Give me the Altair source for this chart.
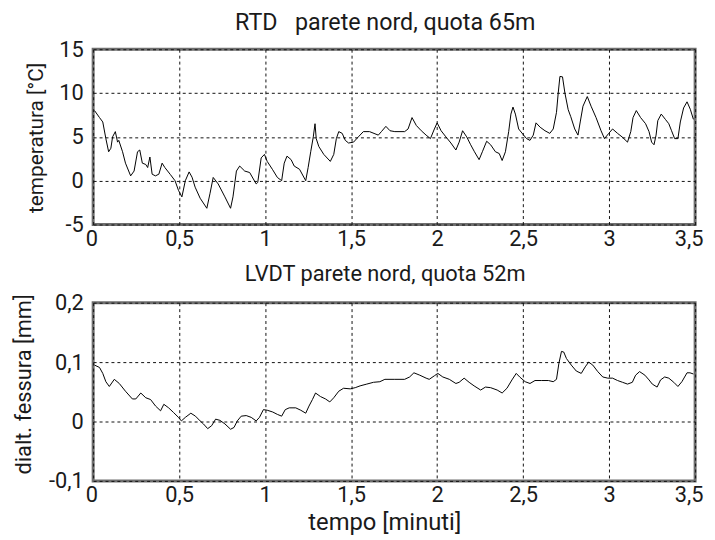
import altair as alt
import pandas as pd

# --- top panel: RTD temperature ---
t_top = [0.008, 0.037, 0.056, 0.074, 0.090, 0.103, 0.113, 0.129, 0.142, 0.149, 0.171, 0.188, 0.218, 0.238,
         0.258, 0.271, 0.286, 0.306, 0.317, 0.330, 0.343, 0.362, 0.382, 0.401, 0.417, 0.449, 0.476, 0.496,
         0.516, 0.536, 0.558, 0.575, 0.593, 0.622, 0.661, 0.679, 0.698, 0.727, 0.766, 0.799, 0.813, 0.833,
         0.852, 0.881, 0.910, 0.948, 0.957, 0.977, 0.996, 1.012, 1.042, 1.071, 1.096, 1.111, 1.127, 1.151,
         1.169, 1.200, 1.236, 1.250, 1.265, 1.280, 1.290, 1.297, 1.312, 1.341, 1.379, 1.399, 1.414, 1.428,
         1.448, 1.466, 1.485, 1.514, 1.542, 1.571, 1.607, 1.658, 1.676, 1.702, 1.726, 1.754, 1.811, 1.831,
         1.854, 1.879, 1.908, 1.936, 1.961, 1.984, 2.000, 2.023, 2.051, 2.080, 2.109, 2.128, 2.148, 2.172,
         2.195, 2.217, 2.244, 2.263, 2.288, 2.311, 2.339, 2.361, 2.378, 2.397, 2.416, 2.429, 2.441, 2.455,
         2.474, 2.503, 2.520, 2.540, 2.559, 2.575, 2.599, 2.627, 2.655, 2.675, 2.694, 2.704, 2.714, 2.729,
         2.743, 2.762, 2.777, 2.800, 2.819, 2.832, 2.848, 2.873, 2.895, 2.924, 2.953, 2.973, 2.998, 3.020,
         3.049, 3.075, 3.107, 3.126, 3.139, 3.158, 3.183, 3.212, 3.232, 3.247, 3.261, 3.273, 3.283, 3.303,
         3.327, 3.347, 3.363, 3.381, 3.400, 3.414, 3.433, 3.453, 3.472, 3.490]
temp = [8.0, 7.2, 6.7, 4.8, 3.3, 3.7, 5.0, 5.6, 4.4, 4.6, 3.3, 2.0, 0.55, 1.1,
        3.3, 3.5, 2.0, 1.85, 1.5, 2.7, 0.74, 0.55, 0.74, 2.0, 1.5, 0.7, 0.0, -1.1,
        -1.85, 0.0, 1.0, 0.4, -0.74, -2.0, -3.15, -1.5, 0.37, -0.37, -1.85, -3.15, -1.85, 1.1,
        1.67, 1.1, 0.93, -0.37, -0.2, 2.6, 3.0, 2.2, 1.3, 0.37, 0.0, 2.0, 2.8, 2.4,
        1.67, 1.3, 0.0, 1.5, 3.3, 5.0, 6.5, 4.8, 3.9, 3.0, 2.2, 3.0, 4.8, 5.6,
        5.4, 4.6, 4.3, 4.4, 5.0, 5.6, 5.6, 5.2, 5.6, 6.2, 5.7, 5.6, 5.6, 5.9,
        7.2, 6.3, 5.7, 5.2, 4.8, 5.9, 6.6, 5.7, 5.0, 4.3, 3.5, 4.4, 5.7, 5.0,
        4.1, 3.3, 2.4, 3.3, 4.5, 4.1, 3.3, 3.1, 2.3, 3.3, 5.6, 7.6, 8.4, 7.6,
        5.9, 5.2, 4.8, 4.6, 5.2, 6.6, 6.1, 5.7, 5.4, 5.9, 7.8, 10.0, 11.9, 11.85,
        10.0, 8.1, 7.3, 5.9, 5.2, 6.7, 8.5, 9.6, 8.5, 7.2, 5.7, 4.8, 5.4, 5.9,
        5.4, 5.0, 4.4, 5.6, 7.2, 8.0, 7.2, 6.5, 5.6, 4.4, 4.1, 5.2, 6.85, 7.6,
        7.0, 6.5, 5.7, 4.8, 4.8, 6.7, 8.3, 9.0, 8.15, 7.0]

# --- bottom panel: LVDT crack opening ---
t_bot = [0.008, 0.037, 0.056, 0.074, 0.094, 0.123, 0.152, 0.188, 0.228, 0.248, 0.277, 0.306, 0.334, 0.363,
         0.392, 0.411, 0.439, 0.468, 0.496, 0.513, 0.536, 0.568, 0.595, 0.622, 0.641, 0.666, 0.689, 0.712,
         0.737, 0.766, 0.799, 0.819, 0.838, 0.861, 0.890, 0.919, 0.948, 0.967, 0.990, 1.012, 1.044, 1.071,
         1.096, 1.117, 1.140, 1.178, 1.207, 1.236, 1.255, 1.275, 1.293, 1.322, 1.351, 1.376, 1.399, 1.428,
         1.456, 1.495, 1.524, 1.552, 1.591, 1.630, 1.667, 1.696, 1.726, 1.754, 1.811, 1.840, 1.865, 1.899,
         1.936, 1.954, 1.984, 2.004, 2.033, 2.071, 2.109, 2.128, 2.157, 2.186, 2.215, 2.253, 2.281, 2.311,
         2.349, 2.378, 2.406, 2.435, 2.460, 2.480, 2.512, 2.540, 2.569, 2.608, 2.647, 2.675, 2.694, 2.708,
         2.723, 2.736, 2.752, 2.780, 2.809, 2.838, 2.861, 2.881, 2.905, 2.934, 2.963, 2.992, 3.020, 3.049,
         3.078, 3.107, 3.135, 3.154, 3.177, 3.208, 3.232, 3.251, 3.279, 3.299, 3.323, 3.347, 3.376, 3.400,
         3.423, 3.453, 3.470, 3.490]
fess = [0.095, 0.091, 0.081, 0.067, 0.059, 0.071, 0.064, 0.051, 0.038, 0.038, 0.048, 0.040, 0.037, 0.026,
        0.018, 0.029, 0.023, 0.015, 0.007, 0.001, 0.007, 0.014, 0.009, 0.001, -0.004, -0.012, -0.007, 0.004,
        0.002, -0.004, -0.013, -0.010, 0.001, 0.009, 0.010, 0.007, 0.001, 0.007, 0.020, 0.019, 0.016, 0.012,
        0.009, 0.020, 0.023, 0.023, 0.019, 0.014, 0.026, 0.037, 0.048, 0.042, 0.038, 0.033, 0.040, 0.051,
        0.056, 0.055, 0.057, 0.060, 0.063, 0.066, 0.067, 0.071, 0.071, 0.071, 0.071, 0.075, 0.082, 0.078,
        0.073, 0.071, 0.077, 0.081, 0.075, 0.071, 0.064, 0.066, 0.073, 0.066, 0.060, 0.053, 0.058, 0.057,
        0.053, 0.048, 0.056, 0.070, 0.081, 0.075, 0.067, 0.064, 0.069, 0.069, 0.069, 0.067, 0.071, 0.098,
        0.118, 0.117, 0.106, 0.095, 0.085, 0.081, 0.092, 0.100, 0.095, 0.084, 0.075, 0.073, 0.073, 0.069,
        0.066, 0.063, 0.066, 0.078, 0.084, 0.078, 0.070, 0.063, 0.058, 0.070, 0.075, 0.073, 0.066, 0.059,
        0.067, 0.082, 0.082, 0.080]

x_ticks = [0, 0.5, 1, 1.5, 2, 2.5, 3, 3.5]
y_ticks_top = [-5, 0, 5, 10, 15]
y_ticks_bot = [-0.1, 0, 0.1, 0.2]

title_top = "RTD\u00a0\u00a0 parete nord, quota 65m"
title_bot = "LVDT parete nord, quota 52m"
ylab_top = "temperatura [°C]"
ylab_bot = "dialt. fessura [mm]"
xlab = "tempo [minuti]"

FONT = "Roboto"
INK = "#1a1a1a"
W = 608
H_TOP = 177
H_BOT = 180
comma = "replace(toString(datum.value), '.', ',')"

df_top = pd.DataFrame({"t": t_top, "v": temp})
df_bot = pd.DataFrame({"t": t_bot, "v": fess})


def panel(df, title, title_size, title_y, ylab, ylab_size, yticks, ydom, h, show_xtitle,
          ytitle_x, ytitle_y):
    if show_xtitle:
        x_axis = alt.Axis(values=x_ticks, labelExpr=comma, labelFlush=True, labelFlushOffset=8,
                          title=xlab, titleX=294, titleY=49, titleBaseline="alphabetic",
                          titleFontSize=24)
    else:
        x_axis = alt.Axis(values=x_ticks, labelExpr=comma, labelFlush=True, labelFlushOffset=8,
                          title=None)
    line = (
        alt.Chart(df)
        .mark_line(color="black", strokeWidth=1.0)
        .encode(
            x=alt.X("t:Q", scale=alt.Scale(domain=[0, 3.5], nice=False, zero=False), axis=x_axis),
            y=alt.Y("v:Q", scale=alt.Scale(domain=ydom, nice=False, zero=False),
                    axis=alt.Axis(values=yticks, labelExpr=comma, title=ylab,
                                  titleX=ytitle_x, titleY=ytitle_y, titleBaseline="middle",
                                  titleAngle=270, titleFontSize=ylab_size)),
        )
    )
    head = (
        alt.Chart(pd.DataFrame({"label": [title]}))
        .mark_text(font=FONT, fontSize=title_size, color=INK, align="center", baseline="alphabetic")
        .encode(x=alt.value(W / 2 - 9), y=alt.value(title_y), text="label:N")
    )
    return alt.layer(line, head).properties(width=W, height=h)


top = panel(df_top, title_top, 23.5, -19, ylab_top, 21, y_ticks_top, [-5, 15], H_TOP, False, -57, 89)
bot = panel(df_bot, title_bot, 22, -22, ylab_bot, 22, y_ticks_bot, [-0.1, 0.2], H_BOT, True, -70, 82)

chart = (
    alt.vconcat(top, bot, spacing=10)
    .properties(padding={"left": 3, "top": -1, "right": 2, "bottom": 0})
    .configure_view(stroke="#6e6e6e", strokeWidth=3)
    .configure_axis(
        grid=True, gridColor="#111111", gridDash=[3, 3], gridWidth=1, gridOpacity=1,
        domain=False, ticks=False,
        labelFont=FONT, labelFontSize=22, labelColor=INK, labelPadding=4,
        titleFont=FONT, titleFontWeight="normal", titleColor=INK,
    )
    .configure_axisY(labelPadding=10)
)

chart.save("out.html", embed_options={"renderer": "svg", "actions": False})
